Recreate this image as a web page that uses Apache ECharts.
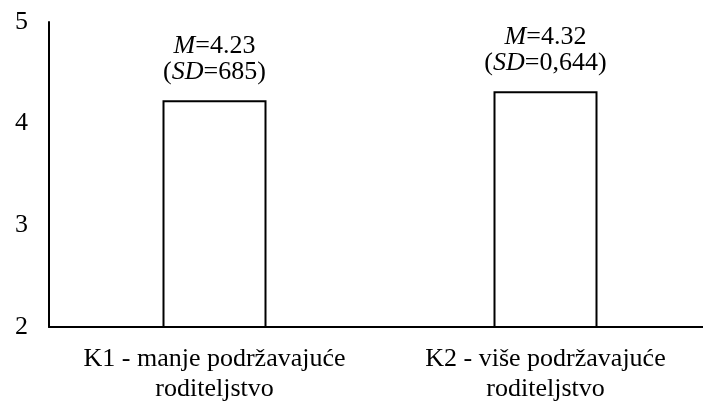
<!DOCTYPE html>
<html lang="hr">
<head>
<meta charset="UTF-8">
<title>K1 / K2</title>
<script src="https://cdn.jsdelivr.net/npm/echarts@6/dist/echarts.min.js"></script>
<style>
  html, body { margin: 0; padding: 0; background: #fff; }
  #chart { width: 703px; height: 402px; }
</style>
</head>
<body>
<div id="chart"></div>
<script>
// podaci
var categories = ['K1 - manje podržavajuće\nroditeljstvo', 'K2 - više podržavajuće\nroditeljstvo'];
var means = [4.23, 4.32];
var sdText = ['685', '0,644'];
var yTicks = [2, 3, 4, 5];

var chart = echarts.init(document.getElementById('chart'));
var font = '"Liberation Serif", "Times New Roman", serif';

var option = {
  animation: false,
  grid: { left: 49, width: 662, top: 22, bottom: 75, outerBoundsMode: 'none', containLabel: false },
  xAxis: {
    type: 'category',
    data: categories,
    axisLine: { lineStyle: { color: '#000', width: 2 } },
    axisTick: { show: false },
    axisLabel: {
      color: '#000', fontFamily: font, fontSize: 26,
      lineHeight: 30, margin: 17, interval: 0
    }
  },
  yAxis: {
    type: 'value',
    min: yTicks[0], max: yTicks[yTicks.length - 1], interval: 1,
    axisLine: { show: true, lineStyle: { color: '#000', width: 2 } },
    axisTick: { show: false },
    splitLine: { show: false },
    axisLabel: { color: '#000', fontFamily: font, fontSize: 26, margin: 21 }
  },
  series: [{
    type: 'bar',
    barWidth: 104,
    data: means,
    itemStyle: { color: '#fff', borderColor: '#000', borderWidth: 2 },
    label: {
      show: true,
      position: 'top',
      distance: 15,
      formatter: function (p) {
        return '{i|M}{n|=' + p.value.toFixed(2) + '}\n{n|(}{i|SD}{n|=' + sdText[p.dataIndex] + ')}';
      },
      rich: {
        i: { fontFamily: font, fontSize: 26, fontStyle: 'italic', color: '#000', lineHeight: 26 },
        n: { fontFamily: font, fontSize: 26, color: '#000', lineHeight: 26 }
      }
    }
  }]
};
chart.setOption(option);
</script>
</body>
</html>
